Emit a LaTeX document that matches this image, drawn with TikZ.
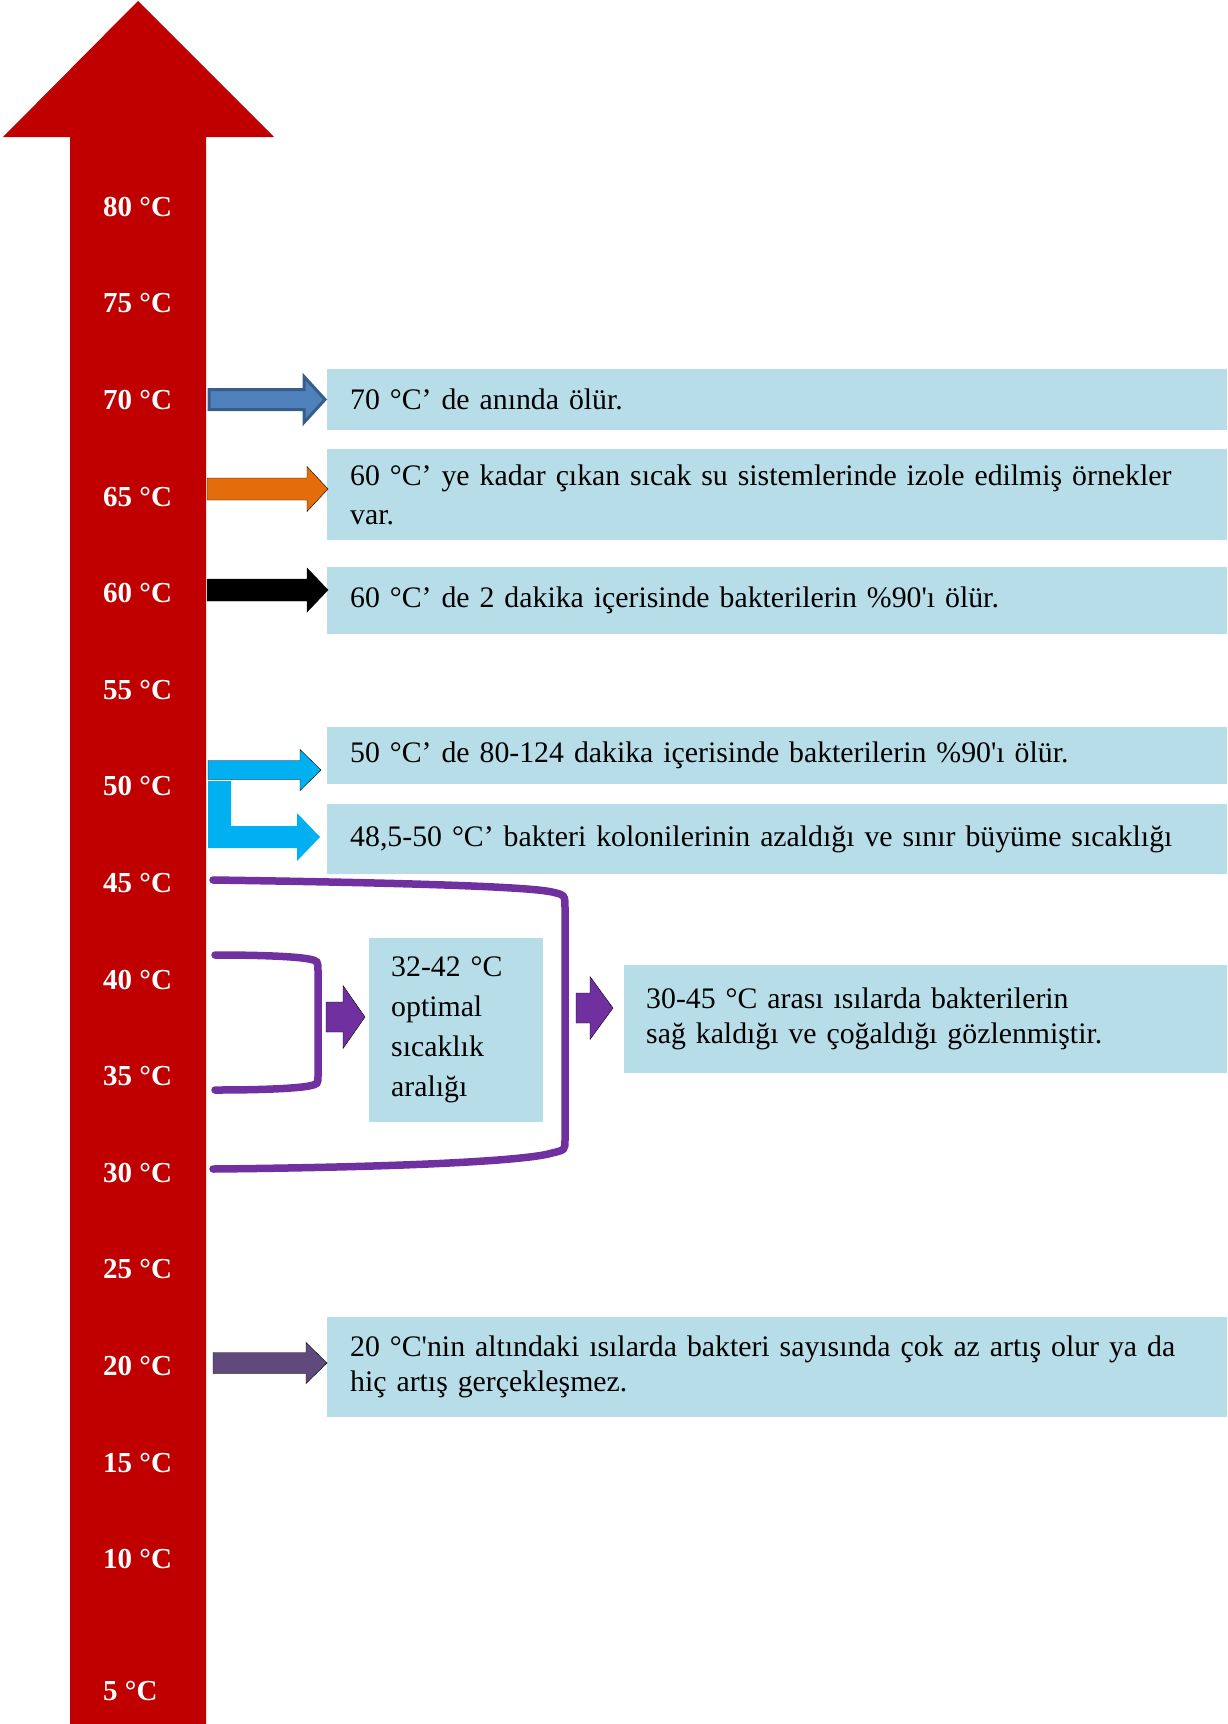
\documentclass[tikz,border=0pt]{standalone}
\usepackage{fontspec}
\setmainfont{Liberation Serif}
\definecolor{thermored}{HTML}{C00000}
\definecolor{boxblue}{HTML}{B7DDE8}
\definecolor{arrowblue}{HTML}{4F81BD}
\definecolor{arrowblueline}{HTML}{385D8A}
\definecolor{arroworange}{HTML}{E46C0A}
\definecolor{arrowcyan}{HTML}{00B0F0}
\definecolor{arrowpurple}{HTML}{7030A0}
\definecolor{arrowplum}{HTML}{604A7B}

% block arrow: style, x start, x head base, x tip, y middle, half shaft, half head
\newcommand{\blkarrow}[7]{%
  \filldraw[#1] (#2,{#5-#6}) -- (#3,{#5-#6}) -- (#3,{#5-#7}) -- (#4,#5)
    -- (#3,{#5+#7}) -- (#3,{#5+#6}) -- (#2,{#5+#6}) -- cycle;}

\tikzset{
  infobox/.style={fill=boxblue, anchor=north west, text width=854pt, inner xsep=23pt,
    inner ysep=0pt, align=left, font=\fontsize{29.8}{36}\selectfont},
  templabel/.style={text=white, anchor=west, inner xsep=0pt, font=\bfseries\fontsize{29}{29}\selectfont},
  bracket/.style={draw=arrowpurple, line width=7.5pt, line cap=round},
}

\begin{document}
\begin{tikzpicture}[x=1pt,y=-1pt]
\useasboundingbox (0,0) rectangle (1227,1724);

% thermometer arrow
\fill[thermored] (70,1724) -- (70,137) -- (3,137) -- (138,1) -- (274,137)
  -- (206,137) -- (206,1724) -- cycle;
\foreach \t [count=\i from 0] in {80,75,...,10}
  \node[templabel] (t\t) at (103,{206.7+\i*96.6}) {\t\ °C};
\node[templabel] (t5) at (103,1691) {5 °C};

% text boxes
\node[infobox, minimum height=61pt] (b70) at (327,369) {70 °C’ de anında ölür.};
\node[infobox, minimum height=91pt, font=\fontsize{29.8}{39}\selectfont] (b65) at (327,449)
  {60 °C’ ye kadar çıkan sıcak su sistemlerinde izole edilmiş örnekler\\var.};
\node[infobox, minimum height=67pt] (b60) at (327,567)
  {60 °C’ de 2 dakika içerisinde bakterilerin \%90\textquotesingle ı ölür.};
\node[infobox, minimum height=57pt] (b50) at (327,727)
  {50 °C’ de 80-124 dakika içerisinde bakterilerin \%90\textquotesingle ı ölür.};
\node[infobox, minimum height=70pt] (b48) at (327,804)
  {48,5-50 °C’ bakteri kolonilerinin azaldığı ve sınır büyüme sıcaklığı};
\node[infobox, minimum height=184pt, text width=130pt, inner xsep=22pt,
  font=\fontsize{29.8}{40}\selectfont] (bopt) at (369,938)
  {32-42 °C\\optimal\\sıcaklık\\aralığı};
\node[infobox, minimum height=108pt, text width=559pt, inner xsep=22pt,
  font=\fontsize{29.8}{35}\selectfont] (b30) at (624,965)
  {30-45 °C arası ısılarda bakterilerin\\sağ kaldığı ve çoğaldığı gözlenmiştir.};
\node[infobox, minimum height=100pt, font=\fontsize{29.8}{35}\selectfont] (b20) at (327,1317)
  {20 °C\textquotesingle nin altındaki ısılarda bakteri sayısında çok az artış olur ya da\\hiç artış gerçekleşmez.};

% block arrows
\blkarrow{fill=arrowblue, draw=arrowblueline, line width=3pt}{209}{304}{325}{399.5}{10}{23}
\blkarrow{fill=arroworange}{207}{307}{328}{489}{11}{22.5}
\blkarrow{fill=black}{207}{307}{328}{590}{11}{22}
\blkarrow{fill=arrowcyan}{208}{300}{321}{770}{9.5}{20.5}
\fill[arrowcyan] (208,781) -- (231,781) -- (231,826) -- (297,826) -- (297,813)
  -- (320,837) -- (297,861) -- (297,848) -- (208,848) -- cycle;
\blkarrow{fill=arrowpurple}{326}{343}{365}{1017}{15}{31.5}
\blkarrow{fill=arrowpurple}{576}{590}{613}{1008}{15}{31.5}
\blkarrow{fill=arrowplum}{213}{306}{327}{1363}{10.5}{20.5}

% brackets
\draw[bracket] (213,880) .. controls (420,883) and (530,887) .. (552,892)
  .. controls (565,895) .. (565,908) -- (565,1140) .. controls (565,1150) .. (552,1153)
  .. controls (530,1160) and (420,1167) .. (213,1169);
\draw[bracket] (215,955) .. controls (270,955) and (298,957) .. (309,959)
  .. controls (318,961) .. (318,971) -- (318,1076) .. controls (318,1084) .. (309,1086)
  .. controls (298,1088) and (270,1090) .. (215,1090);
\end{tikzpicture}
\end{document}
